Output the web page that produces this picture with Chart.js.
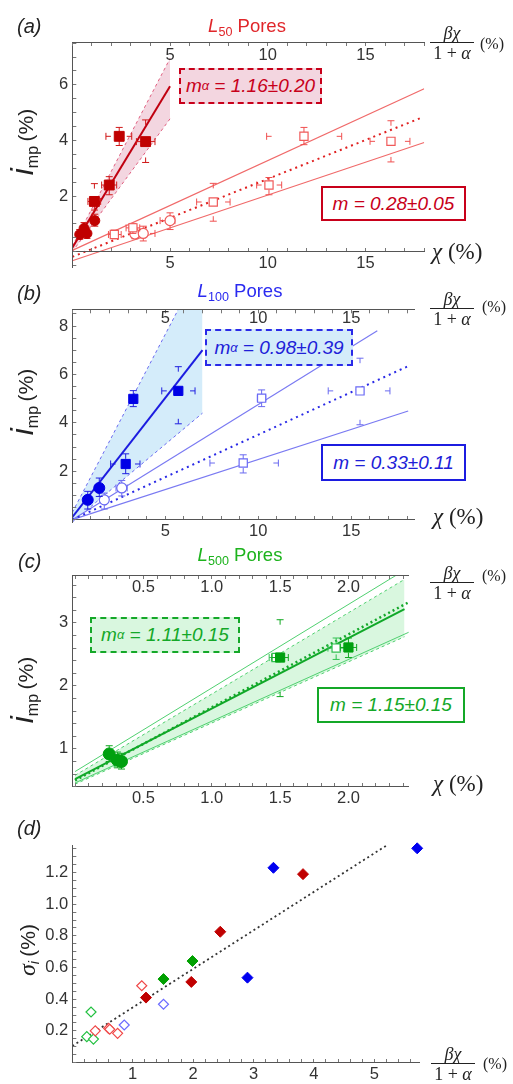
<!DOCTYPE html>
<html>
<head>
<meta charset="utf-8">
<title>Pore ionization</title>
<script src="https://cdn.jsdelivr.net/npm/chart.js@4.4.1/dist/chart.umd.min.js"></script>
<style>
  body { margin: 0; width: 513px; height: 1084px; overflow: hidden; background: #fff; position: relative;
         font-family: 'Liberation Sans', Arial, sans-serif; color: #222; }
  canvas { position: absolute; left: 0; }
  .t { position: absolute; white-space: nowrap; line-height: 1; z-index: 5; }
  .tag { font-style: italic; font-size: 20px; }
  .title { font-size: 18.5px; transform: translateX(-50%); }
  sub { font-size: 0.68em; vertical-align: -0.3em; line-height: 0; }
  .box { position: absolute; box-sizing: border-box; display: flex; align-items: center; justify-content: center;
         font-style: italic; font-size: 19px; z-index: 4; white-space: nowrap; }
  .frac { position: absolute; width: 44px; text-align: center; z-index: 5;
          font-family: 'Liberation Serif', 'DejaVu Serif', serif; }
  .frac .num { font-style: italic; font-size: 18px; line-height: 16px; border-bottom: 1.3px solid #222; padding-bottom: 1px; }
  .frac .den { font-size: 18px; line-height: 20px; }
  .pct { position: absolute; font-family: 'Liberation Serif', serif; font-size: 16px; line-height: 1; z-index: 5; }
  .chi { position: absolute; font-family: 'Liberation Serif', serif; font-size: 23px; white-space: nowrap; line-height: 1; z-index: 5; }
  .ylab { position: absolute; transform: translate(-50%, -50%) rotate(-90deg); white-space: nowrap; line-height: 1; z-index: 5; }
</style>
</head>
<body>
<canvas id="pa" width="513" height="285" style="top:0"></canvas>
<canvas id="pb" width="513" height="270" style="top:270px"></canvas>
<canvas id="pc" width="513" height="270" style="top:540px"></canvas>
<canvas id="pd" width="513" height="284" style="top:800px"></canvas>

<!-- panel (a) -->
<div class="t tag" style="left:17px;top:16px">(a)</div>
<div class="t title" style="left:247px;top:17px;color:#e0262a"><i>L</i><sub>50</sub> Pores</div>
<div class="frac" style="left:430px;top:25px"><div class="num">βχ</div><div class="den">1 + <i>α</i></div></div>
<div class="pct" style="left:480px;top:36px">(%)</div>
<div class="chi" style="left:432px;top:240px"><i>χ</i> (%)</div>
<div class="ylab" style="left:22px;top:142px"><i style="font-size:32px">i</i><sub style="font-size:16px">mp</sub> <span style="font-size:21px">(%)</span></div>
<div class="box" style="left:179px;top:68px;width:143px;height:36px;border:2.5px dashed #c8001a;background:#f3d6e0;color:#c8001a">m<sub>α</sub>&nbsp;=&nbsp;1.16±0.20</div>
<div class="box" style="left:321px;top:186px;width:145px;height:35px;border:2px solid #c8001a;background:#fff;color:#c8001a">m&nbsp;=&nbsp;0.28±0.05</div>

<!-- panel (b) -->
<div class="t tag" style="left:17px;top:283px">(b)</div>
<div class="t title" style="left:240px;top:282px;color:#2a2af0"><i>L</i><sub>100</sub> Pores</div>
<div class="frac" style="left:430px;top:291px"><div class="num">βχ</div><div class="den">1 + <i>α</i></div></div>
<div class="pct" style="left:482px;top:299px">(%)</div>
<div class="chi" style="left:433px;top:505px"><i>χ</i> (%)</div>
<div class="ylab" style="left:22px;top:402px"><i style="font-size:32px">i</i><sub style="font-size:16px">mp</sub> <span style="font-size:21px">(%)</span></div>
<div class="box" style="left:205px;top:329px;width:148px;height:37px;border:2.5px dashed #2a2ae8;background:#d4ecfa;color:#2020d8">m<sub>α</sub>&nbsp;=&nbsp;0.98±0.39</div>
<div class="box" style="left:321px;top:444px;width:145px;height:37px;border:2px solid #1c1ce0;background:#fff;color:#2020d8">m&nbsp;=&nbsp;0.33±0.11</div>

<!-- panel (c) -->
<div class="t tag" style="left:18px;top:551px">(c)</div>
<div class="t title" style="left:240px;top:546px;color:#1db31d"><i>L</i><sub>500</sub> Pores</div>
<div class="frac" style="left:430px;top:565px"><div class="num">βχ</div><div class="den">1 + <i>α</i></div></div>
<div class="pct" style="left:482px;top:568px">(%)</div>
<div class="chi" style="left:433px;top:772px"><i>χ</i> (%)</div>
<div class="ylab" style="left:22px;top:690px"><i style="font-size:32px">i</i><sub style="font-size:16px">mp</sub> <span style="font-size:21px">(%)</span></div>
<div class="box" style="left:90px;top:617px;width:150px;height:36px;border:2.5px dashed #14a828;background:#d9f7df;color:#14a828">m<sub>α</sub>&nbsp;=&nbsp;1.11±0.15</div>
<div class="box" style="left:317px;top:687px;width:148px;height:36px;border:2px solid #14a828;background:#fff;color:#14a828">m&nbsp;=&nbsp;1.15±0.15</div>

<!-- panel (d) -->
<div class="t tag" style="left:17px;top:818px">(d)</div>
<div class="frac" style="left:431px;top:1046px"><div class="num">βχ</div><div class="den">1 + <i>α</i></div></div>
<div class="pct" style="left:483px;top:1056px">(%)</div>
<div class="ylab" style="left:27px;top:950px"><i style="font-size:24px;font-family:'Liberation Serif',serif">σ</i><sub style="font-size:14px;font-style:italic">i</sub> <span style="font-size:21px">(%)</span></div>

<script>
// ---- (a) L50 pores: filled = vs βχ/(1+α) (top axis), open = vs χ (bottom axis)
const aFilledSquares = [
    { x: 1.13, y: 1.81, ex: [0.80, 1.45], ey: [1.50, 2.45] },
    { x: 1.89, y: 2.40, ex: [1.50, 2.27], ey: [2.05, 2.70] },
    { x: 2.40, y: 4.15, ex: [1.72, 3.04], ey: [3.82, 4.47] },
    { x: 3.75, y: 3.96, ex: [3.28, 4.23], ey: [3.21, 4.74] }
];
const aFilledCircles = [
    { x: 0.38, y: 0.62, ey: [0.45, 0.80] },
    { x: 0.60, y: 0.84, ey: [0.62, 1.05] },
    { x: 0.62, y: 0.74, ey: [0.55, 0.95] },
    { x: 0.75, y: 0.66, ey: [0.48, 0.85] },
    { x: 1.15, y: 1.12, ey: [0.92, 1.35] }
];
const aOpenSquares = [
    { x: 2.15, y: 0.62, ex: [1.85, 2.50], ey: [0.47, 0.78] },
    { x: 3.10, y: 0.86, ex: [2.75, 3.45], ey: [0.66, 1.02] },
    { x: 7.21, y: 1.79, ex: [6.36, 8.07], ey: [1.10, 2.46] },
    { x: 10.06, y: 2.40, ex: [9.43, 10.71], ey: [2.05, 2.67] },
    { x: 11.85, y: 4.15, ex: [9.94, 13.78], ey: [3.85, 4.47] },
    { x: 16.30, y: 3.97, ex: [15.23, 17.27], ey: [3.23, 4.71] }
];
const aOpenCircles = [
    { x: 3.20, y: 0.64, ey: [0.47, 0.82] },
    { x: 3.63, y: 0.66, ex: [3.20, 4.23], ey: [0.39, 0.92] },
    { x: 5.00, y: 1.12, ex: [4.49, 5.25], ey: [0.80, 1.40] }
];
const aAlphaFit = [{ x: 0, y: 0.15 }, { x: 5, y: 5.95 }];
const aAlphaUpper = [{ x: 0, y: 0.2 }, { x: 5, y: 6.95 }];
const aAlphaLower = [{ x: 0, y: 0 }, { x: 5, y: 4.78 }];
const aFitMid = [{ x: 0, y: -0.18 }, { x: 17.9, y: 4.83 }];
const aFitUpper = [{ x: 0, y: 0.05 }, { x: 18, y: 5.86 }];
const aFitLower = [{ x: 0, y: -0.32 }, { x: 18, y: 3.93 }];
const aXLabels = [5, 10, 15];
const aYLabels = [2, 4, 6];

// ---- (b) L100 pores
const bFilledCircles = [
    { x: 0.83, y: 0.82, ey: [0.44, 1.17] },
    { x: 1.45, y: 1.31, ey: [0.96, 1.72] }
];
const bFilledSquares = [
    { x: 2.87, y: 2.30, ex: [2.06, 3.64], ey: [1.90, 2.72] },
    { x: 3.28, y: 4.99, ey: [4.67, 5.33] },
    { x: 5.70, y: 5.32, ex: [4.81, 6.60], ey: [3.96, 6.32] }
];
const bOpenCircles = [
    { x: 1.72, y: 0.82, ey: [0.44, 1.10] },
    { x: 2.66, y: 1.31, ex: [2.35, 2.95], ey: [0.98, 1.62] }
];
const bOpenSquares = [
    { x: 9.19, y: 2.34, ex: [7.40, 11.08], ey: [1.93, 2.68] },
    { x: 10.18, y: 5.02, ex: [9.95, 10.40], ey: [4.67, 5.36] },
    { x: 15.47, y: 5.32, ex: [13.76, 17.08], ey: [3.92, 6.67] }
];
const bAlphaFit = [{ x: 0, y: 0.1 }, { x: 7, y: 7.0 }];
const bAlphaUpper = [{ x: 0, y: 0.3 }, { x: 7, y: 10.6 }];
const bAlphaLower = [{ x: 0, y: -0.1 }, { x: 7, y: 4.40 }];
const bFitMid = [{ x: 0, y: 0 }, { x: 18.0, y: 6.32 }];
const bFitUpper = [{ x: 0, y: 0 }, { x: 16.4, y: 7.8 }];
const bFitLower = [{ x: 0, y: 0 }, { x: 18.06, y: 4.49 }];
const bXLabels = [5, 10, 15];
const bYLabels = [2, 4, 6, 8];

// ---- (c) L500 pores
const cFilledCircles = [
    { x: 0.25, y: 0.92, ex: [0.22, 0.28], ey: [0.80, 1.05] },
    { x: 0.31, y: 0.82, ey: [0.70, 0.95] },
    { x: 0.34, y: 0.80, ey: [0.68, 0.93] }
];
const cFilledSquares = [
    { x: 1.50, y: 2.45, ex: [1.44, 1.56], ey: [1.83, 3.05] },
    { x: 2.00, y: 2.61, ex: [1.94, 2.06], ey: [2.45, 2.76] }
];
const cOpenSquares = [
    { x: 1.47, y: 2.45, ex: [1.42, 1.53] },
    { x: 1.91, y: 2.60, ex: [1.85, 1.97], ey: [2.42, 2.76] }
];
const cAlphaFit = [{ x: 0, y: 0.52 }, { x: 2.41, y: 3.22 }];
const cAlphaUpper = [{ x: 0, y: 0.58 }, { x: 2.41, y: 3.69 }];
const cAlphaLower = [{ x: 0, y: 0.44 }, { x: 2.41, y: 2.78 }];
const cFitMid = [{ x: 0, y: 0.50 }, { x: 2.46, y: 3.35 }];
const cFitUpper = [{ x: 0, y: 0.64 }, { x: 2.45, y: 3.89 }];
const cFitLower = [{ x: 0, y: 0.46 }, { x: 2.45, y: 2.86 }];
const cXLabels = [0.5, 1.0, 1.5, 2.0];
const cYLabels = [1, 2, 3];

// ---- (d) sigma_i vs βχ/(1+α)
const dRedFilled = [{ x: 1.22, y: 0.41 }, { x: 1.97, y: 0.509 }, { x: 2.45, y: 0.826 }, { x: 3.82, y: 1.19 }];
const dRedOpen = [{ x: 0.38, y: 0.20 }, { x: 0.60, y: 0.216 }, { x: 0.62, y: 0.21 }, { x: 0.75, y: 0.184 }, { x: 1.15, y: 0.485 }];
const dBlueFilled = [{ x: 2.90, y: 0.536 }, { x: 3.33, y: 1.23 }, { x: 5.71, y: 1.353 }];
const dBlueOpen = [{ x: 0.86, y: 0.237 }, { x: 1.51, y: 0.368 }];
const dGreenFilled = [{ x: 1.51, y: 0.527 }, { x: 1.99, y: 0.641 }];
const dGreenOpen = [{ x: 0.24, y: 0.163 }, { x: 0.31, y: 0.319 }, { x: 0.35, y: 0.148 }];
const dTrend = [{ x: 0, y: 0.104 }, { x: 5.26, y: 1.385 }];
const dXLabels = [1, 2, 3, 4, 5];
const dYLabels = [0.2, 0.4, 0.6, 0.8, 1.0, 1.2];

Chart.defaults.font.family = "'Liberation Sans', Arial, sans-serif";

// error bars: caps with short stubs, drawn just before each dataset
const errorBars = {
    id: 'errorBars',
    beforeDatasetDraw(chart, args) {
        const ds = chart.data.datasets[args.index];
        if (!ds.errColor) return;
        const { ctx, scales: { x, y } } = chart;
        ctx.save();
        ctx.strokeStyle = ds.errColor;
        ctx.lineWidth = 1;
        ctx.beginPath();
        ds.data.forEach(p => {
            const px = x.getPixelForValue(p.x), py = y.getPixelForValue(p.y);
            (p.ex || []).forEach(v => {
                const bx = x.getPixelForValue(v);
                const s = Math.sign(px - bx) * Math.min(5, Math.abs(px - bx));
                ctx.moveTo(bx, py - 3.5); ctx.lineTo(bx, py + 3.5);
                ctx.moveTo(bx, py); ctx.lineTo(bx + s, py);
            });
            (p.ey || []).forEach(v => {
                const by = y.getPixelForValue(v);
                const s = Math.sign(py - by) * Math.min(5, Math.abs(py - by));
                ctx.moveTo(px - 3.5, by); ctx.lineTo(px + 3.5, by);
                ctx.moveTo(px, by); ctx.lineTo(px, by + s);
            });
        });
        ctx.stroke();
        ctx.restore();
    }
};

function near(list, v) {
    return list.some(l => Math.abs(l - v) < 1e-6);
}

function axis(min, max, step, labels, digits, pad) {
    return {
        type: 'linear', min, max,
        afterBuildTicks: s => {
            const out = [];
            const n0 = Math.ceil(min / step - 1e-9), n1 = Math.floor(max / step + 1e-9);
            for (let n = n0; n <= n1; n++) out.push({ value: +(n * step).toFixed(6) });
            s.ticks = out;
        },
        ticks: {
            callback: v => near(labels, v) ? v.toFixed(digits) : '',
            autoSkip: false, maxRotation: 0, padding: pad, color: '#333', font: { size: 16.5 }, z: 1
        },
        grid: { drawOnChartArea: false, drawTicks: true, tickLength: -4, tickColor: '#777', z: 1 },
        border: { display: true, color: '#555', width: 1, z: 1 }
    };
}

function makePanel(id, f, datasets) {
    const canvas = document.getElementById(id);
    const scales = {
        x: Object.assign(axis(f.xmin, f.xmax, f.xstep, f.xlabels, f.xdigits, 6), { position: { y: f.xAt } }),
        y: Object.assign(axis(f.ymin, f.ymax, f.ystep, f.ylabels, f.ydigits, 8), {
            position: 'left', afterFit: s => { s.width = 72.3; }
        })
    };
    if (f.topAxis) {
        // top axis labels sit inside the frame, so mirror them (also avoids label clipping)
        const top = axis(f.xmin, f.xmax, f.xstep, f.xlabels, f.xdigits, f.topPad);
        top.ticks.mirror = true;
        scales.x2 = Object.assign(top, {
            axis: 'x', position: 'top', afterFit: s => { s.height = f.top; }
        });
    }
    return new Chart(canvas, {
        type: 'line',
        data: { datasets },
        options: {
            responsive: false,
            devicePixelRatio: 1,
            animation: false,
            events: [],
            layout: { padding: { left: 0, top: f.topAxis ? 0 : f.top, right: 513 - f.right, bottom: canvas.height - f.bottom } },
            scales,
            plugins: { legend: { display: false }, tooltip: { enabled: false } }
        },
        plugins: [errorBars]
    });
}

function pts(data, style, r, fill, stroke, bw, errColor) {
    return {
        data, showLine: false, clip: false, pointStyle: style, pointRadius: r, pointHoverRadius: r,
        pointBackgroundColor: fill, pointBorderColor: stroke, pointBorderWidth: bw, errColor
    };
}
function seg(data, color, width, dash, extra) {
    return Object.assign({
        data, borderColor: color, borderWidth: width, borderDash: dash || [],
        pointRadius: 0, fill: false, tension: 0
    }, extra || {});
}

// (a)
makePanel('pa', {
    xmin: 0, xmax: 18, xstep: 1, xlabels: aXLabels, xdigits: 0,
    ymin: -0.55, ymax: 7.54, ystep: 0.5, ylabels: aYLabels, ydigits: 0,
    xAt: 0, top: 42, bottom: 269.8, right: 424.2, topAxis: true, topPad: 4
}, [
    pts(aFilledSquares, 'rect', 7, '#c00000', '#c00000', 1, '#d01818'),
    pts(aFilledCircles, 'circle', 5, '#c00000', '#c00000', 1, '#d01818'),
    pts(aOpenSquares, 'rect', 5.8, '#fff', '#f05a5a', 1.2, '#f05050'),
    pts(aOpenCircles, 'circle', 5, '#fff', '#f05a5a', 1.2, '#f05050'),
    seg(aAlphaFit, '#c00010', 2),
    seg(aFitMid, '#e02020', 2, [2, 4]),
    seg(aFitUpper, '#f06a6a', 1.2),
    seg(aFitLower, '#f06a6a', 1.2),
    seg(aAlphaUpper, '#e06080', 1, [3, 3]),
    seg(aAlphaLower, '#e06080', 1, [3, 3], { fill: '-1', backgroundColor: '#f3d6e0' })
]);

// (b)
makePanel('pb', {
    xmin: 0, xmax: 18.4, xstep: 1, xlabels: bXLabels, xdigits: 0,
    ymin: -0.1, ymax: 8.69, ystep: 0.5, ylabels: bYLabels, ydigits: 0,
    xAt: 0, top: 39.3, bottom: 252.4, right: 414.5, topAxis: true, topPad: -1
}, [
    pts(bFilledSquares, 'rect', 6.5, '#0000e6', '#0000e6', 1, '#2020e0'),
    pts(bFilledCircles, 'circle', 5.5, '#0000e6', '#0000e6', 1, '#2020e0'),
    pts(bOpenSquares, 'rect', 5.8, '#fff', '#6a6af5', 1.2, '#6a6af0'),
    pts(bOpenCircles, 'circle', 5, '#fff', '#6a6af5', 1.2, '#6a6af0'),
    seg(bAlphaFit, '#1c1ce0', 2),
    seg(bFitMid, '#2a2ae6', 2, [2, 4]),
    seg(bFitUpper, '#7a7af2', 1.2),
    seg(bFitLower, '#7a7af2', 1.2),
    seg(bAlphaUpper, '#6a6af0', 1, [3, 3]),
    seg(bAlphaLower, '#6a6af0', 1, [3, 3], { fill: '-1', backgroundColor: '#d4ecfa' })
]);

// (c)
makePanel('pc', {
    xmin: -0.02, xmax: 2.44, xstep: 0.1, xlabels: cXLabels, xdigits: 1,
    ymin: 0.4, ymax: 3.76, ystep: 0.2, ylabels: cYLabels, ydigits: 0,
    xAt: 0.4, top: 35, bottom: 246.7, right: 408.6, topAxis: true, topPad: 3
}, [
    pts(cFilledSquares, 'rect', 6.5, '#00a010', '#00a010', 1, '#10a820'),
    pts(cFilledCircles, 'circle', 6, '#00a010', '#00a010', 1, '#10a820'),
    pts(cOpenSquares, 'rect', 5.8, '#fff', '#30c050', 1.2, '#30c050'),
    seg(cAlphaFit, '#10a828', 2),
    seg(cFitMid, '#14a82a', 2.5, [2, 3]),
    seg(cFitUpper, '#50d070', 1),
    seg(cFitLower, '#50d070', 1),
    seg(cAlphaUpper, '#50d070', 1, [3, 3]),
    seg(cAlphaLower, '#50d070', 1, [3, 3], { fill: '-1', backgroundColor: '#d9f7df' })
]);

// (d)
makePanel('pd', {
    xmin: 0, xmax: 5.75, xstep: 0.2, xlabels: dXLabels, xdigits: 0,
    ymin: 0, ymax: 1.374, ystep: 0.05, ylabels: dYLabels, ydigits: 1,
    xAt: 0, top: 45, bottom: 262.5, right: 419.6, topAxis: false
}, [
    pts(dRedFilled, 'rectRot', 5.5, '#c00000', '#c00000', 1),
    pts(dBlueFilled, 'rectRot', 5.5, '#0000f0', '#0000f0', 1),
    pts(dGreenFilled, 'rectRot', 5.5, '#00a000', '#00a000', 1),
    pts(dRedOpen, 'rectRot', 5, '#fff', '#f04848', 1.2),
    pts(dBlueOpen, 'rectRot', 5, '#fff', '#6b6bff', 1.2),
    pts(dGreenOpen, 'rectRot', 5, '#fff', '#22c040', 1.2),
    seg(dTrend, '#333', 1.8, [2, 3])
]);
</script>
</body>
</html>
